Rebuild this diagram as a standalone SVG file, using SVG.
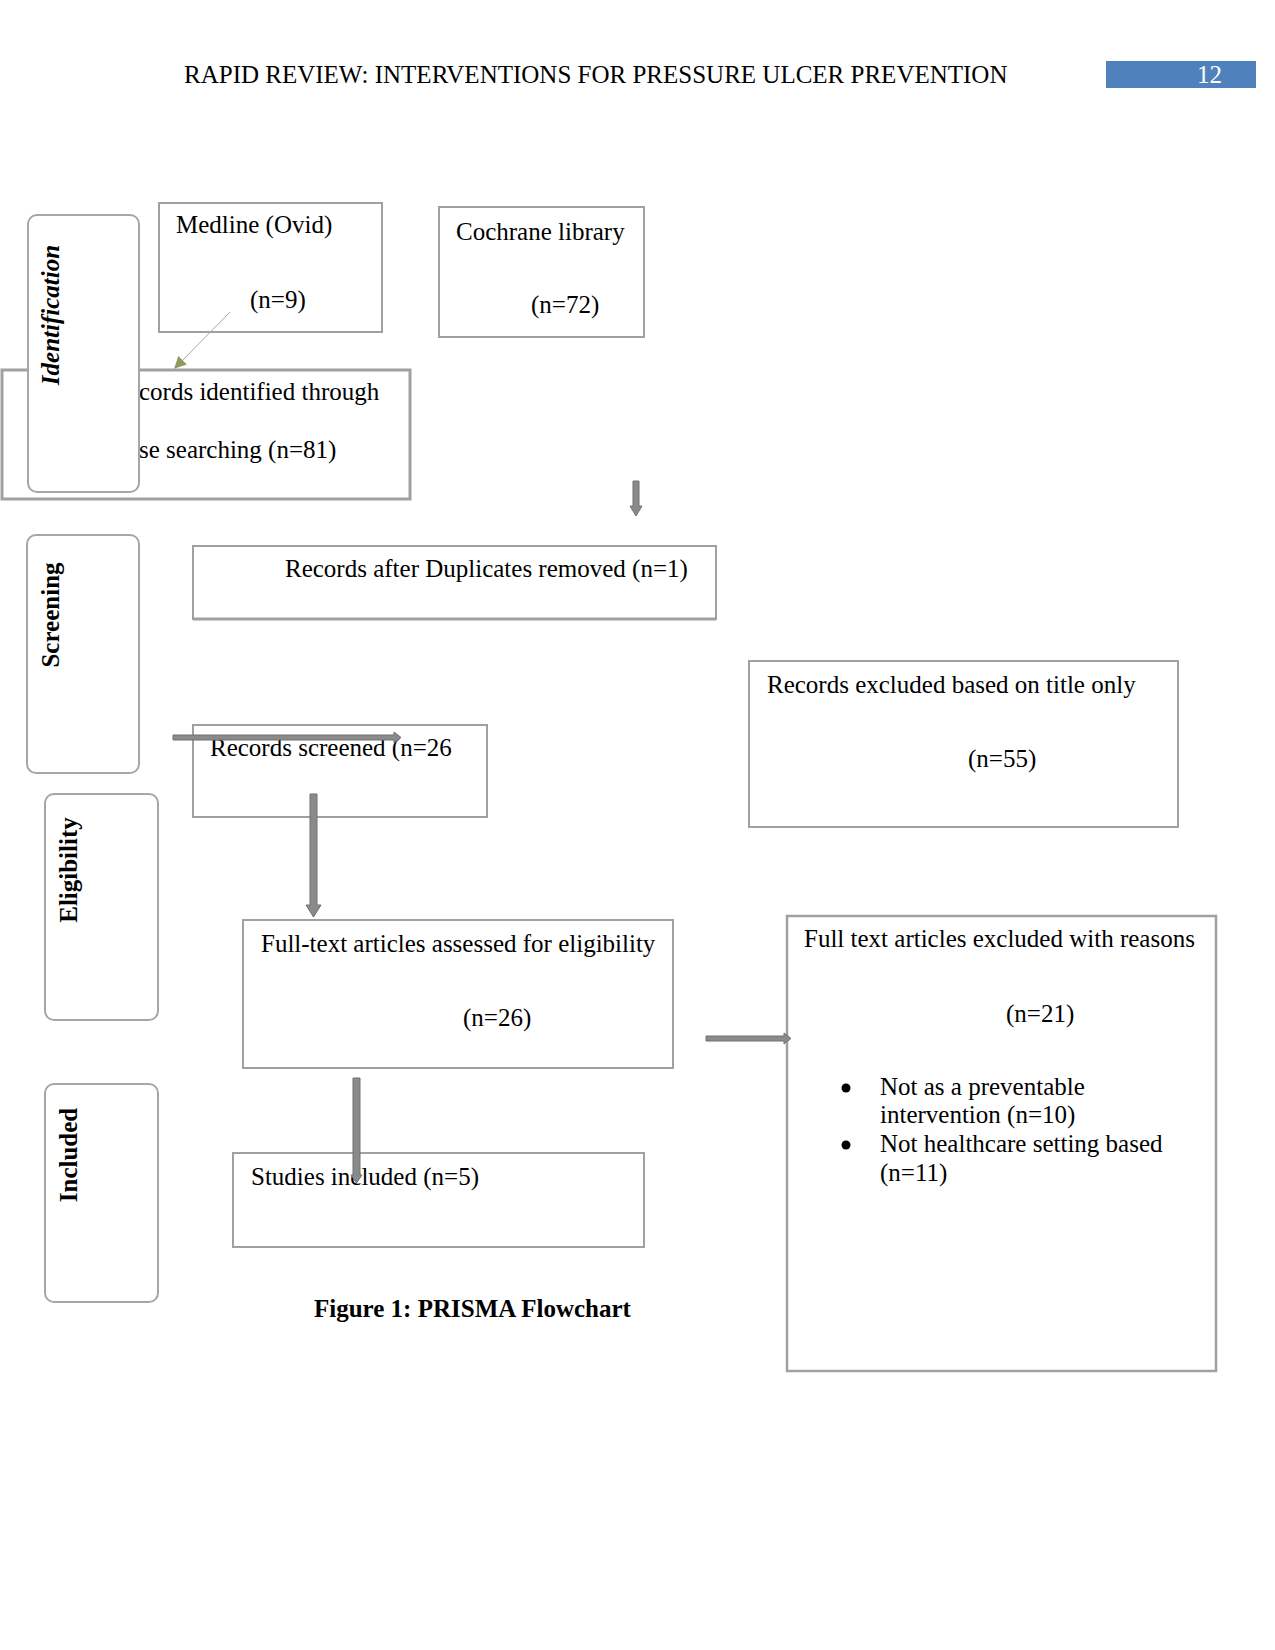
<svg xmlns="http://www.w3.org/2000/svg" width="1275" height="1650" viewBox="0 0 1275 1650">
<style>
.t{font-family:"Liberation Serif","Times New Roman",serif;font-size:25px;fill:#000}
.b{font-weight:bold}
.bi{font-weight:bold;font-style:italic}
.box{fill:#fff;stroke:#a0a0a0;stroke-width:2}
.stage{fill:#fff;stroke:#a6a6a6;stroke-width:2}
.blk{fill:#8a8a8a;stroke:#707070;stroke-width:1}
</style>
<defs>
<marker id="olive" viewBox="0 0 10 10" refX="9" refY="5" markerWidth="12" markerHeight="12" markerUnits="userSpaceOnUse" orient="auto">
<path d="M0,0 L10,5 L0,10 z" fill="#8c9a5e"/>
</marker>
</defs>
<rect width="1275" height="1650" fill="#fff"/>
<g id="header">
<text class="t" x="184" y="83" font-size="24.6">RAPID REVIEW: INTERVENTIONS FOR PRESSURE ULCER PREVENTION</text>
<rect x="1106" y="61" width="150" height="27" fill="#4f81bd"/>
<text class="t" x="1197" y="83" style="fill:#fff">12</text>
</g>
<g id="medline">
<rect class="box" x="159" y="203" width="223" height="129"/>
<text class="t" x="176" y="233">Medline (Ovid)</text>
<text class="t" x="250" y="308">(n=9)</text>
</g>
<g id="cochrane">
<rect class="box" x="439" y="207" width="205" height="130"/>
<text class="t" x="456" y="240">Cochrane library</text>
<text class="t" x="531" y="313">(n=72)</text>
</g>
<g id="records-identified">
<rect class="box" x="2" y="370" width="408" height="129" style="stroke-width:3"/>
<text class="t" x="139" y="400">cords identified through</text>
<text class="t" x="139" y="458">se searching (n=81)</text>
</g>
<g id="stage-identification">
<rect class="stage" x="28" y="215" width="111" height="277" rx="9"/>
<text class="t bi" transform="translate(59,315) rotate(-90)" text-anchor="middle">Identification</text>
</g>
<g id="stage-screening">
<rect class="stage" x="27" y="535" width="112" height="238" rx="9"/>
<text class="t b" transform="translate(59,615) rotate(-90)" text-anchor="middle">Screening</text>
</g>
<g id="stage-eligibility">
<rect class="stage" x="45" y="794" width="113" height="226" rx="9"/>
<text class="t b" transform="translate(77,870) rotate(-90)" text-anchor="middle">Eligibility</text>
</g>
<g id="stage-included">
<rect class="stage" x="45" y="1084" width="113" height="218" rx="9"/>
<text class="t b" transform="translate(77,1155) rotate(-90)" text-anchor="middle">Included</text>
</g>
<g id="duplicates-removed">
<rect class="box" x="193" y="546" width="523" height="73"/>
<line x1="193" y1="619" x2="716" y2="619" stroke="#a0a0a0" stroke-width="3"/>
<text class="t" x="285" y="577">Records after Duplicates removed (n=1)</text>
</g>
<g id="records-screened">
<rect class="box" x="193" y="725" width="294" height="92"/>
<text class="t" x="210" y="756">Records screened (n=26</text>
</g>
<g id="excluded-title">
<rect class="box" x="749" y="661" width="429" height="166"/>
<text class="t" x="767" y="693">Records excluded based on title only</text>
<text class="t" x="968" y="767">(n=55)</text>
</g>
<g id="fulltext-assessed">
<rect class="box" x="243" y="920" width="430" height="148"/>
<text class="t" x="261" y="952">Full-text articles assessed for eligibility</text>
<text class="t" x="463" y="1026">(n=26)</text>
</g>
<g id="fulltext-excluded">
<rect class="box" x="787" y="916" width="429" height="455" style="stroke-width:2.5"/>
<text class="t" x="804" y="947">Full text articles excluded with reasons</text>
<text class="t" x="1006" y="1022">(n=21)</text>
<circle cx="846" cy="1088" r="4.5" fill="#000"/>
<text class="t" x="880" y="1095">Not as a preventable</text>
<text class="t" x="880" y="1123">intervention (n=10)</text>
<circle cx="846" cy="1145" r="4.5" fill="#000"/>
<text class="t" x="880" y="1152">Not healthcare setting based</text>
<text class="t" x="880" y="1181">(n=11)</text>
</g>
<g id="studies-included">
<rect class="box" x="233" y="1153" width="411" height="94"/>
<text class="t" x="251" y="1185">Studies included (n=5)</text>
</g>
<g id="caption">
<text class="t b" x="314" y="1317">Figure 1: PRISMA Flowchart</text>
</g>
<g id="connectors">
<line x1="230" y1="312" x2="175" y2="368" stroke="#a8a8a8" stroke-width="1" marker-end="url(#olive)"/>
<polygon class="blk" points="633,481 639,481 639,506 642,506 636,516 630,506 633,506"/>
<polygon class="blk" points="173,735 394,735 394,732 401,737.5 394,743 394,740 173,740"/>
<polygon class="blk" points="310,794 317,794 317,905 321,905 313.5,917 306,905 310,905"/>
<polygon class="blk" points="353,1078 360,1078 360,1175 362,1175 356.5,1183 351,1175 353,1175"/>
<polygon class="blk" points="706,1036 784,1036 784,1033 791,1038.5 784,1044 784,1041 706,1041"/>
</g>
</svg>
